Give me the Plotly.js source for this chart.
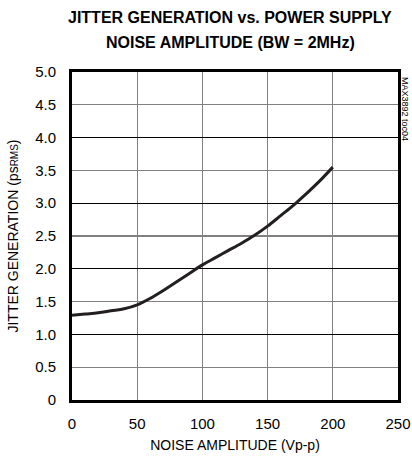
<!DOCTYPE html>
<html><head><meta charset="utf-8">
<script src="https://cdn.plot.ly/plotly-3.0.1.min.js"></script>
<style>html,body{margin:0;padding:0;background:#fff}</style>
</head><body><div id="c" style="width:412px;height:459px"></div>
<script>
const noiseAmp = [0,10,20,30,40,50,60,70,80,90,100,110,120,130,140,150,160,170,180,190,200];
const jitter = [1.29,1.31,1.33,1.36,1.39,1.45,1.55,1.67,1.80,1.93,2.06,2.17,2.28,2.39,2.51,2.65,2.81,2.97,3.15,3.34,3.55];
const yTickVals = [0,0.5,1,1.5,2,2.5,3,3.5,4,4.5,5];
const yTickText = ['0','0.5','1.0','1.5','2.0','2.5','3.0','3.5','4.0','4.5','5.0'];
const xTickVals = [0,50,100,150,200,250];
const F = '"Liberation Sans",Arial,sans-serif';
Plotly.newPlot('c',[
 {x:noiseAmp,y:jitter,mode:'lines',line:{color:'#231f20',width:3,shape:'spline'},hoverinfo:'none',showlegend:false},
 {x:[0],y:[0],yaxis:'y2',mode:'none',showlegend:false,hoverinfo:'none'}
],{
 width:412,height:459,
 margin:{l:72,r:14,t:72,b:59},
 paper_bgcolor:'#fff',plot_bgcolor:'#fff',
 xaxis:{range:[0,250],tickvals:xTickVals,showgrid:true,gridcolor:'#808080',gridwidth:1.3,zeroline:false,
   showline:true,mirror:true,linecolor:'#000',linewidth:3,ticks:'',ticklabelstandoff:8,tickfont:{family:F,size:15,color:'#000'},
   title:{text:'NOISE AMPLITUDE (Vp-p)',font:{family:F,size:14,color:'#000'},standoff:10}},
 yaxis:{range:[0,5],tickvals:yTickVals,ticktext:yTickText,showgrid:true,gridcolor:'#808080',gridwidth:1.3,zeroline:false,
   showline:true,mirror:true,linecolor:'#000',linewidth:3,ticks:'',ticklen:0,ticklabelstandoff:10,tickfont:{family:F,size:15,color:'#000'},
   title:{text:'JITTER GENERATION (ps<span style="font-size:10px">RMS</span>)',font:{family:F,size:14,color:'#000'},standoff:14}},
 yaxis2:{range:[0,5],overlaying:'y',dtick:1,showgrid:true,gridcolor:'#000',gridwidth:1.3,showticklabels:false,zeroline:false,showline:false},
 annotations:[
  {text:'<b>JITTER GENERATION vs. POWER SUPPLY</b>',xref:'paper',yref:'paper',x:0.485,y:1,yshift:55,xanchor:'center',yanchor:'middle',showarrow:false,font:{family:F,size:16,color:'#000'}},
  {text:'<b>NOISE AMPLITUDE (BW = 2MHz)</b>',xref:'paper',yref:'paper',x:0.485,y:1,yshift:30,xanchor:'center',yanchor:'middle',showarrow:false,font:{family:F,size:16,color:'#000'}},
  {text:'MAX3892 toc04',xref:'paper',yref:'paper',x:1.0,y:1.0,xanchor:'left',yanchor:'top',xshift:0,yshift:-3,textangle:90,showarrow:false,font:{family:F,size:9,color:'#000'}}]
},{displayModeBar:false,staticPlot:true});
</script></body></html>
